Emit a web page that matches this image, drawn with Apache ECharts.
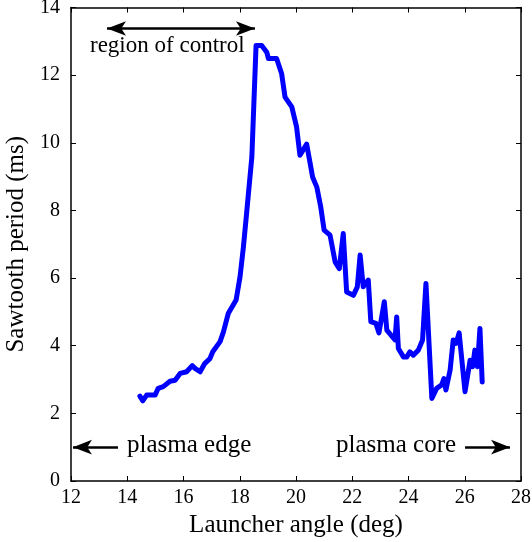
<!DOCTYPE html>
<html>
<head>
<meta charset="utf-8">
<script src="https://cdn.jsdelivr.net/npm/echarts@6/dist/echarts.min.js"></script>
<style>
  html, body { margin: 0; padding: 0; background: #fff; }
  #chart { width: 532px; height: 542px; }
</style>
</head>
<body>
<div id="chart"></div>
<script>
// launcher angle (deg) and sawtooth period (ms)
const angle = [
  14.45, 14.55, 14.69, 14.99, 15.10, 15.28, 15.52, 15.70, 15.88, 16.11,
  16.31, 16.41, 16.59, 16.76, 16.94, 17.04, 17.30, 17.42, 17.59, 17.87,
  18.01, 18.13, 18.22, 18.43, 18.58, 18.78, 18.96, 19.02, 19.31, 19.49,
  19.61, 19.85, 20.02, 20.14, 20.38, 20.59, 20.74, 20.88, 21.00, 21.21,
  21.39, 21.54, 21.68, 21.80, 22.04, 22.18, 22.28, 22.39, 22.57, 22.66,
  22.84, 22.95, 23.14, 23.23, 23.52, 23.58, 23.64, 23.82, 23.94, 24.05,
  24.17, 24.35, 24.50, 24.62, 24.83, 25.00, 25.18, 25.26, 25.33, 25.48,
  25.59, 25.69, 25.80, 26.01, 26.19, 26.28, 26.36, 26.45, 26.54, 26.62
];
const period = [
  2.51, 2.37, 2.54, 2.54, 2.74, 2.79, 2.95, 2.98, 3.18, 3.23,
  3.41, 3.33, 3.23, 3.48, 3.62, 3.82, 4.12, 4.41, 4.95, 5.35,
  6.04, 6.92, 7.71, 9.58, 12.88, 12.88, 12.68, 12.49, 12.49, 12.04,
  11.35, 11.06, 10.47, 9.63, 9.96, 8.99, 8.69, 8.10, 7.42, 7.27,
  6.48, 6.28, 7.32, 5.59, 5.49, 5.74, 6.68, 5.74, 5.94, 4.71,
  4.66, 4.38, 5.30, 4.46, 4.17, 4.85, 3.92, 3.67, 3.67, 3.82,
  3.72, 3.87, 4.17, 5.84, 2.44, 2.74, 2.84, 3.03, 2.69, 3.28,
  4.17, 4.07, 4.38, 2.64, 3.57, 3.38, 3.87, 3.38, 4.51, 2.93
];
const xTicks = [12, 28, 2];
const yTicks = [0, 14, 2];

// arrow annotations: [x0, y0, x1, y1]
const edgeArrow = [13.67, 1.0, 12.07, 1.0];
const coreArrow = [26.01, 1.0, 27.61, 1.0];
const controlArrow = [13.28, 13.38, 18.54, 13.38];

const FONT = 'Liberation Serif';
const chart = echarts.init(document.getElementById('chart'), null, { renderer: 'canvas' });

const arrowLine = (a, both) => ([
  { coord: [a[0], a[1]], symbol: both ? 'arrow' : 'none' },
  { coord: [a[2], a[3]], symbol: 'arrow' }
]);

const axisCommon = {
  axisLine: { show: true, onZero: false, lineStyle: { color: '#000', width: 1.5 } },
  axisTick: { show: true, inside: true, length: 5, lineStyle: { color: '#000', width: 1 } },
  splitLine: { show: false }
};

chart.setOption({
  animation: false,
  backgroundColor: '#fff',
  grid: { left: 71, right: 11, top: 7.5, bottom: 61, containLabel: false, outerBoundsMode: 'none' },
  xAxis: [
    {
      type: 'value', min: xTicks[0], max: xTicks[1], interval: xTicks[2],
      position: 'bottom',
      ...axisCommon,
      axisLabel: { color: '#000', fontFamily: FONT, fontSize: 20, margin: 7 },
      name: 'Launcher angle (deg)', nameLocation: 'middle', nameGap: 30,
      nameTextStyle: { color: '#000', fontFamily: FONT, fontSize: 25 }
    },
    {
      type: 'value', min: xTicks[0], max: xTicks[1], interval: xTicks[2],
      position: 'top', ...axisCommon, axisLabel: { show: false }
    }
  ],
  yAxis: [
    {
      type: 'value', min: yTicks[0], max: yTicks[1], interval: yTicks[2],
      position: 'left',
      ...axisCommon,
      axisLabel: { color: '#000', fontFamily: FONT, fontSize: 20, margin: 11 },
      name: 'Sawtooth period (ms)', nameLocation: 'middle', nameGap: 38,
      nameTextStyle: { color: '#000', fontFamily: FONT, fontSize: 25 }
    },
    {
      type: 'value', min: yTicks[0], max: yTicks[1], interval: yTicks[2],
      position: 'right', ...axisCommon, axisLabel: { show: false }
    }
  ],
  series: [
    {
      type: 'line',
      data: angle.map((a, i) => [a, period[i]]),
      showSymbol: false,
      lineStyle: { color: '#0000ff', width: 5, join: 'round', cap: 'round' },
      markLine: {
        silent: true,
        symbolSize: [11, 19],
        label: { show: false },
        lineStyle: { color: '#000', width: 2.5, type: 'solid' },
        data: [arrowLine(edgeArrow), arrowLine(coreArrow), arrowLine(controlArrow, true)]
      }
    }
  ],
  graphic: [
    { type: 'text', left: 90, top: 34, style: { text: 'region of control', font: '23px ' + FONT, fill: '#000' } },
    { type: 'text', left: 127, top: 433, style: { text: 'plasma edge', font: '25px ' + FONT, fill: '#000' } },
    { type: 'text', left: 336, top: 433, style: { text: 'plasma core', font: '25px ' + FONT, fill: '#000' } }
  ]
});
</script>
</body>
</html>
